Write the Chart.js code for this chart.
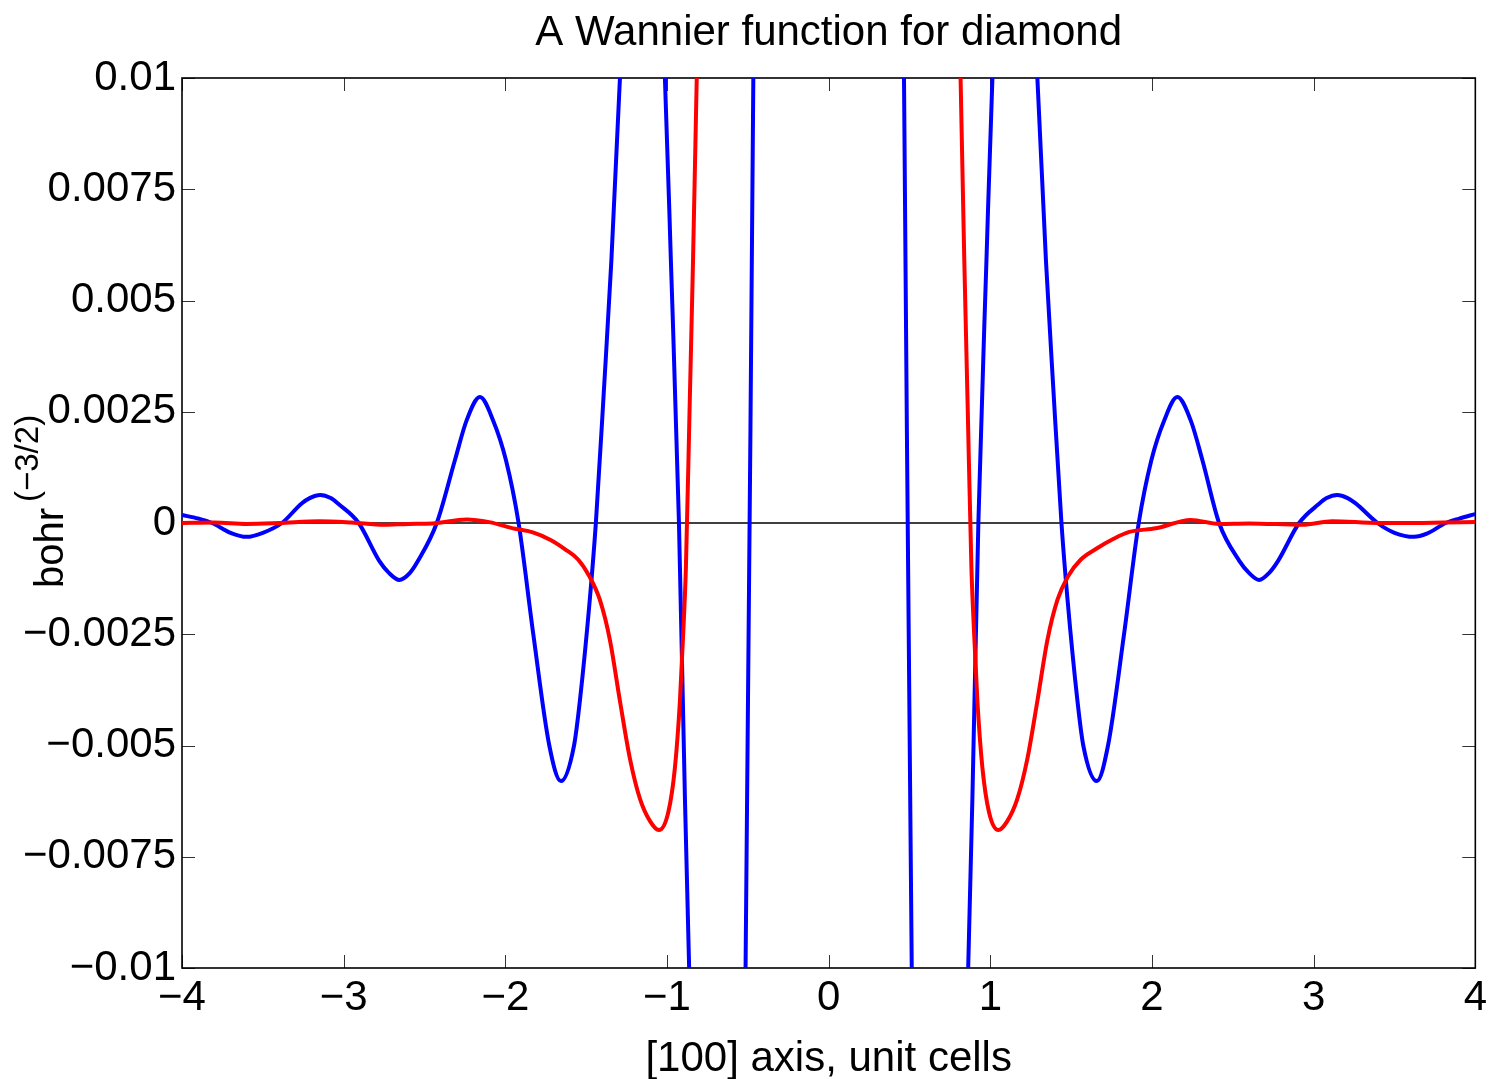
<!DOCTYPE html>
<html>
<head>
<meta charset="utf-8">
<script src="https://cdn.jsdelivr.net/npm/chart.js@4.4.0/dist/chart.umd.min.js"></script>
<style>
  html, body { margin: 0; padding: 0; background: #fff; }
</style>
</head>
<body>
<canvas id="wannierChart" width="1492" height="1079"></canvas>
<script>
// tick values and labels
var xTicks = [-4, -3, -2, -1, 0, 1, 2, 3, 4];
var xTickLabels = ['\u22124', '\u22123', '\u22122', '\u22121', '0', '1', '2', '3', '4'];
var yTicks = [-0.01, -0.0075, -0.005, -0.0025, 0, 0.0025, 0.005, 0.0075, 0.01];
var yTickLabels = ['\u22120.01', '\u22120.0075', '\u22120.005', '\u22120.0025', '0', '0.0025', '0.005', '0.0075', '0.01'];

// blue curve (off-scale part estimated)
var blueX = [-4.0, -3.9, -3.814, -3.7, -3.6, -3.5, -3.382, -3.26, -3.21, -3.145, -3.08, -3.03, -2.907, -2.78, -2.72, -2.656,
  -2.59, -2.54, -2.424, -2.312, -2.24, -2.157, -2.075, -1.996, -1.918, -1.827, -1.728, -1.656, -1.575, -1.539, -1.477,
  -1.44, -1.39, -1.344, -1.291, -1.22, -1.15, -1.08, -1.013, -0.976, -0.926, -0.889, -0.863, -0.8, -0.7, -0.6, -0.514,
  -0.466, -0.4, -0.25, 0,
  0.25, 0.4, 0.466, 0.514, 0.6, 0.7, 0.8, 0.863, 0.889, 0.926, 0.976, 1.013, 1.08, 1.15, 1.22, 1.291, 1.344, 1.39,
  1.44, 1.477, 1.539, 1.575, 1.659, 1.728, 1.827, 1.918, 1.996, 2.075, 2.157, 2.24, 2.312, 2.415, 2.54, 2.6, 2.663,
  2.725, 2.78, 2.91, 3.03, 3.08, 3.146, 3.21, 3.26, 3.395, 3.5, 3.621, 3.7, 3.817, 3.9, 4.0];
var blueY = [0.00018, 0.0001, 0, -0.00022, -0.00031, -0.00022, 0, 0.00044, 0.00056, 0.00063, 0.00056, 0.00042, 0, -0.00085, -0.00112, -0.00128,
  -0.00112, -0.00085, 0, 0.00141, 0.0023, 0.00283, 0.0023, 0.00141, 0, -0.0025, -0.005, -0.0058, -0.005, -0.004, -0.0017,
  0, 0.003, 0.0059, 0.01, 0.0145, 0.0162, 0.0145, 0.01, 0.0059, 0, -0.0062, -0.01, -0.018, -0.023, -0.02, -0.01,
  0.01, 0.035, 0.07, 0.085,
  0.07, 0.035, 0.01, -0.01, -0.02, -0.023, -0.018, -0.01, -0.0062, 0, 0.0059, 0.01, 0.0145, 0.0162, 0.0145, 0.01, 0.0059, 0.003,
  0, -0.0017, -0.004, -0.005, -0.0058, -0.005, -0.0025, 0, 0.00141, 0.0023, 0.00283, 0.0023, 0.00141, 0, -0.00085, -0.00112, -0.00128,
  -0.00112, -0.00085, 0, 0.00042, 0.00056, 0.00063, 0.00056, 0.00044, 0, -0.00022, -0.00031, -0.00024, 0, 0.0001, 0.0002];

// red curve
var redX = [-4.0, -3.8, -3.6, -3.4, -3.15, -2.95, -2.75, -2.6, -2.45, -2.24, -2.1, -1.94, -1.83, -1.72, -1.63, -1.55,
  -1.48, -1.415, -1.353, -1.291, -1.229, -1.167, -1.105, -1.05, -0.992, -0.951, -0.92, -0.9, -0.883, -0.86, -0.839,
  -0.816, -0.75, -0.6, -0.4, -0.2, 0,
  0.2, 0.4, 0.6, 0.75, 0.816, 0.839, 0.86, 0.883, 0.9, 0.92, 0.951, 0.992, 1.05, 1.105, 1.167, 1.229, 1.291, 1.353,
  1.415, 1.48, 1.56, 1.65, 1.76, 1.86, 2.024, 2.24, 2.415, 2.6, 2.93, 3.115, 3.4, 3.63, 3.8, 4.0];
var redY = [0, 0.00001, -0.00002, 0, 0.00004, 0.00001, -0.00004, -0.00002, -0.00001, 0.00008, 0.00002, -0.00013, -0.00021, -0.00038, -0.00059, -0.00082,
  -0.0012, -0.00173, -0.00263, -0.004, -0.0053, -0.0062, -0.0067, -0.0069, -0.0065, -0.0055, -0.004, -0.0025, -0.001, 0.0026, 0.0059,
  0.01, 0.022, 0.045, 0.063, 0.075, 0.079,
  0.075, 0.063, 0.045, 0.022, 0.01, 0.0059, 0.0026, -0.001, -0.0025, -0.004, -0.0055, -0.0065, -0.0069, -0.0067, -0.0062, -0.0053, -0.004, -0.00263,
  -0.00173, -0.0012, -0.00082, -0.00059, -0.00036, -0.0002, -0.00012, 0.00007, -0.00002, -0.00001, -0.00004, 0.00004, 0, 0, 0.00001, 0.00002];

var zeroX = [-4, 4];
var zeroY = [0, 0];

function pairs(xs, ys) {
  return xs.map(function (x, i) { return { x: x, y: ys[i] }; });
}

var FONT = '"Liberation Sans", Arial, Helvetica, sans-serif';

// box + inward ticks, matlab style
var frameTicks = {
  id: 'frameTicks',
  beforeDatasetsDraw: function (chart) {
    var ctx = chart.ctx, a = chart.chartArea;
    var xs = chart.scales.x, ys = chart.scales.y;
    ctx.save();
    ctx.strokeStyle = '#333';
    ctx.lineWidth = 1;
    ctx.beginPath();
    xTicks.forEach(function (v) {
      var px = Math.round(xs.getPixelForValue(v)) + 0.5;
      ctx.moveTo(px, a.bottom); ctx.lineTo(px, a.bottom - 13);
      ctx.moveTo(px, a.top); ctx.lineTo(px, a.top + 13);
    });
    yTicks.forEach(function (v) {
      var py = Math.round(ys.getPixelForValue(v)) + 0.5;
      ctx.moveTo(a.left, py); ctx.lineTo(a.left + 13, py);
      ctx.moveTo(a.right, py); ctx.lineTo(a.right - 13, py);
    });
    ctx.stroke();
    ctx.strokeStyle = '#000';
    ctx.lineWidth = 1.6;
    ctx.strokeRect(a.left, a.top, a.right - a.left, a.bottom - a.top);
    ctx.restore();
  },
  afterDraw: function (chart) {
    var ctx = chart.ctx, a = chart.chartArea;
    ctx.save();
    ctx.fillStyle = '#000';
    ctx.textAlign = 'center';
    ctx.textBaseline = 'alphabetic';
    ctx.font = '42px ' + FONT;
    ctx.fillText('A Wannier function for diamond', (a.left + a.right) / 2, 45);
    ctx.fillText('[100] axis, unit cells', (a.left + a.right) / 2, 1071);
    // y label with superscript
    ctx.translate(63, 588);
    ctx.rotate(-Math.PI / 2);
    ctx.textAlign = 'left';
    ctx.font = '40px ' + FONT;
    ctx.fillText('bohr', 0, 0);
    ctx.font = '33px ' + FONT;
    ctx.fillText('(\u22123/2)', 86, -25);
    ctx.restore();
  }
};

var ctx = document.getElementById('wannierChart');
var wannierChart = new Chart(ctx, {
  type: 'line',
  data: {
    datasets: [{
      label: 'red',
      data: pairs(redX, redY),
      borderColor: '#ff0000',
      borderWidth: 4,
      pointRadius: 0,
      cubicInterpolationMode: 'monotone',
      fill: false,
      order: 1
    }, {
      label: 'blue',
      data: pairs(blueX, blueY),
      borderColor: '#0000ff',
      borderWidth: 4,
      pointRadius: 0,
      cubicInterpolationMode: 'monotone',
      fill: false,
      order: 2
    }, {
      label: 'zero',
      data: pairs(zeroX, zeroY),
      borderColor: '#000000',
      borderWidth: 1.3,
      pointRadius: 0,
      fill: false,
      order: 3
    }]
  },
  options: {
    responsive: false,
    animation: false,
    layout: { padding: { top: 78, right: 15, left: 0, bottom: 0 } },
    plugins: {
      legend: { display: false },
      tooltip: { enabled: false },
      title: { display: false }
    },
    scales: {
      x: {
        type: 'linear',
        min: -4,
        max: 4,
        afterBuildTicks: function (scale) {
          scale.ticks = xTicks.map(function (v) { return { value: v }; });
        },
        afterFit: function (scale) { scale.height = 111; },
        grid: { display: false, drawTicks: false },
        border: { display: false },
        ticks: {
          padding: 5,
          color: '#000',
          maxRotation: 0,
          autoSkip: false,
          font: { family: FONT, size: 42, lineHeight: 1.2 },
          callback: function (value, index) { return xTickLabels[index]; }
        }
      },
      y: {
        type: 'linear',
        min: -0.01,
        max: 0.01,
        afterBuildTicks: function (scale) {
          scale.ticks = yTicks.map(function (v) { return { value: v }; });
        },
        afterFit: function (scale) { scale.width = 182; },
        grid: { display: false, drawTicks: false },
        border: { display: false },
        ticks: {
          padding: 6,
          color: '#000',
          autoSkip: false,
          font: { family: FONT, size: 42, lineHeight: 1.2 },
          callback: function (value, index) { return yTickLabels[index]; }
        }
      }
    }
  },
  plugins: [frameTicks]
});
</script>
</body>
</html>
